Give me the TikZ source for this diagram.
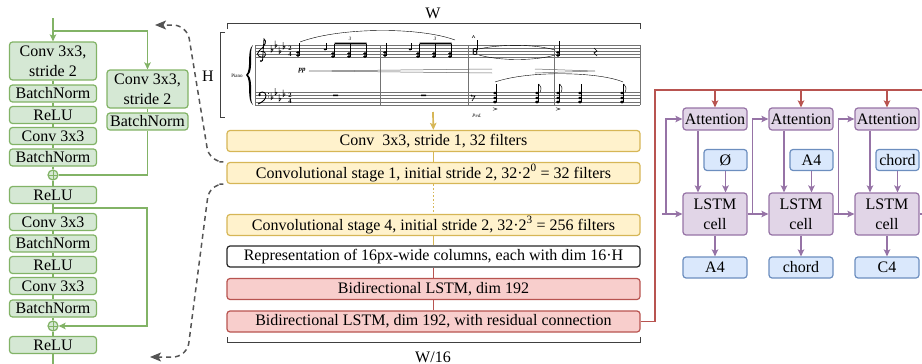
\documentclass[tikz,border=0pt]{standalone}
\usepackage{fontspec}
\setmainfont{Liberation Serif}
\usetikzlibrary{arrows.meta,calc}

\definecolor{grnfill}{HTML}{D5E8D4}
\definecolor{grnline}{HTML}{82B366}
\definecolor{yelfill}{HTML}{FFF2CC}
\definecolor{yelline}{HTML}{D6B656}
\definecolor{redfill}{HTML}{F8CECC}
\definecolor{redline}{HTML}{B85450}
\definecolor{purfill}{HTML}{E1D5E7}
\definecolor{purline}{HTML}{9673A6}
\definecolor{blufill}{HTML}{DAE8FC}
\definecolor{bluline}{HTML}{6C8EBF}
\definecolor{dashgray}{HTML}{555555}

% score glyphs
\newcommand{\nhead}[2]{\fill (#1,#2) ellipse (1.9pt and 1.4pt);}
\newcommand{\qchord}[4]{\nhead{#1}{#2}\nhead{#1}{#3}\draw[line width=0.5pt] (#1+1.7,#3) -- (#1+1.7,#4);}
\newcommand{\flatsign}[2]{\draw[line width=0.5pt] (#1,#2-6) -- (#1,#2+1.2) .. controls (#1+3.2,#2-1) and (#1+2.5,#2-3) .. (#1,#2-1);}
\newcommand{\accmark}[2]{\draw[line width=0.4pt] (#1-2,#2-1.3) -- (#1+2,#2) -- (#1-2,#2+1.3);}

\begin{document}
\begin{tikzpicture}[x=1pt,y=-1pt,
  every node/.style={font=\fontsize{16}{20}\selectfont, inner sep=0pt},
  box/.style={draw, rounded corners=3pt, line width=1.2pt, align=center},
  grnbox/.style={box, draw=grnline, fill=grnfill, minimum width=87pt, minimum height=17pt},
  grnwide/.style={grnbox, minimum height=38pt},
  yelbox/.style={box, draw=yelline, fill=yelfill, minimum width=413pt, minimum height=21pt},
  redbox/.style={box, draw=redline, fill=redfill, minimum width=413pt, minimum height=21pt},
  purbox/.style={box, draw=purline, fill=purfill, minimum width=64pt, minimum height=22pt},
  blubox/.style={box, draw=bluline, fill=blufill, minimum height=21pt},
  plusnode/.style={circle, draw=grnline, fill=grnfill, line width=1.2pt, minimum size=10pt,
    path picture={\draw[grnline, line width=1pt] (path picture bounding box.north) -- (path picture bounding box.south)
      (path picture bounding box.west) -- (path picture bounding box.east);}},
  gline/.style={grnline, line width=1.7pt},
  garr/.style={gline, -{Stealth[length=7pt,width=6.5pt,inset=1.5pt]}},
  yline/.style={yelline, line width=1.7pt},
  rline/.style={redline, line width=1.7pt},
  rarr/.style={rline, -{Stealth[length=7pt,width=6.5pt,inset=1.5pt]}},
  parr/.style={purline, line width=1.7pt, -{Stealth[length=7pt,width=6.5pt,inset=1.5pt]}},
  dashlink/.style={dashgray, line width=1.5pt, dash pattern=on 5pt off 4pt, rounded corners=14pt,
    -{Stealth[length=11pt,width=9pt,inset=2.5pt]}},
  brk/.style={black!75, line width=1pt},
  staff/.style={black!55, line width=0.4pt},
  tiny/.style={font=\fontsize{5}{5}\selectfont}
]
\useasboundingbox (0,0) rectangle (922,364);

% residual block
\node[grnwide] (c1) at (53,61) {Conv 3x3,\\stride 2};
\node[grnbox] (b1) at (53,93.5) {BatchNorm};
\node[grnbox] (r1) at (53,115) {ReLU};
\node[grnbox] (c2) at (53,136) {Conv 3x3};
\node[grnbox] (b2) at (53,157.5) {BatchNorm};
\node[plusnode] (p1) at (53,175) {};
\node[grnwide, minimum width=81pt] (sc) at (147.5,89) {Conv 3x3,\\stride 2};
\node[grnbox, minimum width=81pt] (sb) at (147.5,121.5) {BatchNorm};
\node[grnbox] (r2) at (53,195) {ReLU};
\node[grnbox] (c3) at (53,222) {Conv 3x3};
\node[grnbox] (b3) at (53,243.5) {BatchNorm};
\node[grnbox] (r3) at (53,265) {ReLU};
\node[grnbox] (c4) at (53,286) {Conv 3x3};
\node[grnbox] (b4) at (53,308.5) {BatchNorm};
\node[plusnode] (p2) at (53,326) {};
\node[grnbox] (r4) at (53,345) {ReLU};
\coordinate (gin) at (53,18);
\coordinate (gout) at (53,364);
\coordinate (sk1) at (53,31);
\coordinate (sk2) at (53,208);

\draw[garr] (gin) -- (c1);
\draw[garr] (sk1) -| (sc);
\draw[gline] (c1) -- (b1) -- (r1) -- (c2) -- (b2) -- (p1) -- (r2) -- (c3) -- (b3) -- (r3) -- (c4) -- (b4) -- (p2) -- (r4) -- (gout);
\draw[gline] (sc) -- (sb);
\draw[gline] (sb) |- (p1);
\draw[garr] (sk2) -- ++(94,0) |- (p2);

% score
\node (wlab) at (433,13) {W};
\draw[brk] (227,29) -- (227,23) -- (640,23) -- (640,29);
\node (hlab) at (208,76) {H};
\draw[brk] (225,32) -- (220,32) -- (220,117) -- (225,117);
\node[tiny] (piano) at (237,76) {Piano};
\foreach \y in {45,48,51,54,57} \draw[staff] (255,\y) -- (640,\y);
\foreach \y in {92,95.25,98.5,101.75,105} \draw[staff] (255,\y) -- (640,\y);
\foreach \x in {255,380,468,554,640} \draw[staff] (\x,45) -- (\x,105);
\fill (253,45) .. controls (246,50) and (252,70) .. (246,75) .. controls (252,80) and (246,100) .. (253,105)
  .. controls (248.5,100) and (254,80) .. (248,75) .. controls (254,70) and (248.5,50) .. (253,45);
\draw[line width=0.8pt] (262.5,61) -- (264,39) .. controls (267,41) and (266,45) .. (259,51)
  .. controls (255,55) and (260,58) .. (264,57) .. controls (267,55) and (265,50) .. (261,51.5);
\fill (261,61) circle (1.2pt);
\draw[line width=0.9pt] (259,95) .. controls (259,91) and (266,91) .. (266,95.5) .. controls (266,99) and (263,102) .. (258,104);
\fill (259.6,95) circle (1.3pt) (268.5,93.6) circle (0.6pt) (268.5,96.9) circle (0.6pt);
\flatsign{271}{51}\flatsign{275}{46.5}\flatsign{279}{52.5}\flatsign{283}{48}
\flatsign{271}{98.5}\flatsign{275}{94}\flatsign{279}{100}\flatsign{283}{95.5}
\foreach \y/\d [count=\i] in {48/2,54.5/4,95/2,101.5/4}
  \node[font=\fontsize{6.5}{6.5}\bfseries\selectfont] (ts\i) at (290,\y) {\d};
% treble notes
\qchord{298}{52.5}{55.5}{43}
\qchord{385}{52.5}{55.5}{43}
\foreach \gx in {325,410} {\fill (\gx,49.5) ellipse (1.3pt and 1pt); \draw[line width=0.4pt] (\gx+1.2,49.5) -- (\gx+1.2,43);}
\foreach \bx in {333,349,365,418,434,450} {\qchord{\bx}{53.5}{56.5}{43.5}}
\fill (334.7,42.5) rectangle (366.7,44.3) (419.7,42.5) rectangle (451.7,44.3);
\node[tiny] (tup1) at (350,38.5) {\itshape 3};
\node[tiny] (tup2) at (435,38.5) {\itshape 3};
\draw[line width=0.4pt] (300,42) .. controls (340,27) and (420,27) .. (455,40);
\draw[line width=0.8pt] (475,53) ellipse (2pt and 1.5pt) (475,50) ellipse (2pt and 1.5pt);
\draw[line width=0.5pt] (476.8,50) -- (476.8,40);
\draw[line width=0.4pt] (472,38) -- (473.5,35.5) -- (475,38);
\draw[line width=0.4pt] (479,49) .. controls (500,44) and (535,44) .. (555,50);
\draw[line width=0.4pt] (479,55) .. controls (500,61) and (535,61) .. (555,55);
\qchord{558}{52.5}{55.5}{41}
\draw[line width=0.7pt] (594,48) -- (597,51) -- (594,53) -- (597,56);
\node[font=\fontsize{7}{7}\bfseries\itshape\selectfont] (dyn) at (302,71) {pp};
\draw[black!60, line width=0.5pt] (309,71) -- (492,69) (309,71) -- (492,73);
\draw[black!60, line width=0.5pt] (535,69) -- (595,71) (535,73) -- (595,71);
% bass notes
\fill (333,94.5) rectangle (338,96.2) (421,94.5) rectangle (426,96.2);
\draw[line width=0.6pt] (471,96) -- (475,96) -- (472,101);
\fill (471.5,95.5) circle (0.9pt);
\foreach \nx in {495,537,558,580,622} {\nhead{\nx}{93}\nhead{\nx}{98}\qchord{\nx}{102}{102}{84}}
\foreach \fx in {537,558,622} \draw[line width=0.5pt] (\fx+1.7,84) .. controls (\fx+4,87) and (\fx+5,89) .. (\fx+3.5,92);
\accmark{495}{109}\accmark{558}{109}
\draw[line width=0.4pt] (495,82) .. controls (530,70) and (600,72) .. (623,82);
\node[tiny] (ped) at (477,116) {\itshape Ped.};

% feature extractor
\coordinate (yin) at (433,112);
\node[yelbox] (conv0) at (433.5,141) {Conv\ \ 3x3, stride 1, 32 filters};
\node[yelbox] (st1) at (433.5,173) {Convolutional stage 1, initial stride 2, 32·2\textsuperscript{0} = 32 filters};
\node[yelbox] (st4) at (433.5,225) {Convolutional stage 4, initial stride 2, 32·2\textsuperscript{3} = 256 filters};
\node[box, draw=black!85, fill=white, minimum width=413pt, minimum height=21pt] (rep) at (433.5,256.5) {Representation of 16px-wide columns, each with dim 16·H};
\node[redbox] (bl1) at (433.5,289) {Bidirectional LSTM, dim 192};
\node[redbox] (bl2) at (433.5,321.5) {Bidirectional LSTM, dim 192, with residual connection};
\draw[yline, -{Stealth[length=7pt,width=6.5pt,inset=1.5pt]}] (yin) -- (conv0);
\draw[yline] (conv0) -- (st1);
\draw[yline, dotted] (st1) -- (st4);
\draw[yline] (st4) -- (rep);
\draw[rline] (rep) -- (bl1) -- (bl2);
\draw[brk] (227,337) -- (227,342) -- (640,342) -- (640,337);
\node (wslab) at (433,357) {W/16};

% zoom links
\coordinate (zt) at (155,25);
\coordinate (zb) at (150,357);
\draw[dashlink] ([xshift=-7pt]st1.north west) -- ++(-10,0) -- (187,25) -- (zt);
\draw[dashlink] ([xshift=-7pt]st1.south west) -- ++(-10,0) -- (187,357) -- (zb);

% decoder
\coordinate (rtop) at (655,90);
\coordinate (rend) at (922,90);
\draw[rline] (bl2) -| (rtop) -- (rend);
\foreach \i/\x/\t/\o in {1/715/Ø/A4, 2/801/A4/chord, 3/887/chord/C4} {
  \node[purbox] (att\i) at (\x,119) {Attention};
  \node[blubox, minimum width=43pt] (in\i) at (\x+10.5,160) {\t};
  \node[purbox, minimum height=42pt] (cell\i) at (\x,214) {LSTM\\cell};
  \node[blubox, minimum width=64pt] (out\i) at (\x,267.5) {\o};
  \draw[rarr] (att\i |- rtop) -- (att\i);
  \draw[parr] ([xshift=-17pt]att\i.south) -- ([xshift=-17pt]cell\i.north);
  \draw[parr] (in\i) -- (in\i |- cell\i.north);
  \draw[parr] (cell\i) -- (out\i);
}
\coordinate (hin) at (662,214);
\coordinate (hend) at (922,214);
\draw[parr] (hin) -- (cell1);
\draw[parr] ([xshift=4pt]hin) |- (att1);
\draw[parr] (cell1) -- (cell2);
\draw[parr] ([xshift=5pt]cell1.east) |- (att2);
\draw[parr] (cell2) -- (cell3);
\draw[parr] ([xshift=5pt]cell2.east) |- (att3);
\draw[purline, line width=1.7pt] (cell3) -- (hend);
\end{tikzpicture}
\end{document}
